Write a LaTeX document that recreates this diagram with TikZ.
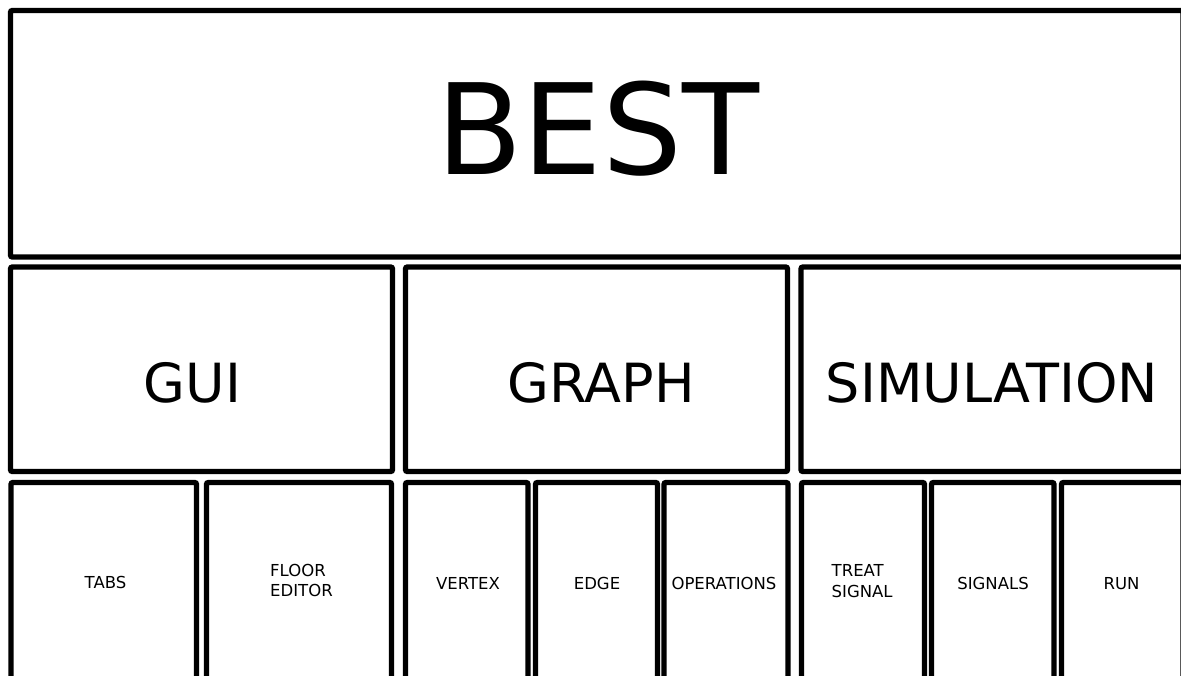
\documentclass[tikz,border=0pt]{standalone}
\usepackage{fontspec}
\setmainfont{DejaVu Sans}
\usetikzlibrary{positioning}

\begin{document}
\begin{tikzpicture}[
    x=1pt, y=-1pt,
    box/.style={draw=black, line width=5.4pt, rounded corners=2pt},
    bigtext/.style={font=\fontsize{126}{126}\selectfont, inner sep=0pt, anchor=base},
    midtext/.style={font=\fontsize{54}{54}\selectfont, inner sep=0pt, anchor=base},
    smalltext/.style={font=\fontsize{16.5}{20.7}\selectfont, inner sep=0pt, anchor=base},
]
\useasboundingbox (0,0) rectangle (1181,675);
\clip (0,0) rectangle (1181,675);

% top level
\draw[box] (10.5,10.5) rectangle (1183,257);
\node[bigtext] (best) at (598,174.3) {BEST};

% modules
\foreach \xa/\xb in {10.5/392.5, 405.5/787.5, 801/1183} {
    \draw[box] (\xa,267) rectangle (\xb,471.5);
}
\node[midtext] (gui) at (192.5,402.7) {GUI};
\node[midtext] (graph) at (601,402.7) {GRAPH};
\node[midtext] (sim) at (992,402.7) {SIMULATION};

% sub modules
\foreach \xa/\xb in {11/196.5, 206.5/391.5, 405.5/528, 535.5/657.5, 664/788, 801.5/924.5, 931.5/1054, 1061.5/1183} {
    \draw[box] (\xa,482.5) rectangle (\xb,700);
}
\node[smalltext] (tabs) at (105.5,588.5) {TABS};
\node[smalltext, anchor=base west, align=left] (floor) at (270,596.7) {FLOOR\\EDITOR};
\node[smalltext] (vertex) at (468,589) {VERTEX};
\node[smalltext] (edge) at (597,589) {EDGE};
\node[smalltext] (ops) at (724,589) {OPERATIONS};
\node[smalltext, anchor=base west, align=left] (treat) at (831.5,597) {TREAT\\SIGNAL};
\node[smalltext] (signals) at (993,589) {SIGNALS};
\node[smalltext] (run) at (1121.5,589) {RUN};
\end{tikzpicture}
\end{document}
